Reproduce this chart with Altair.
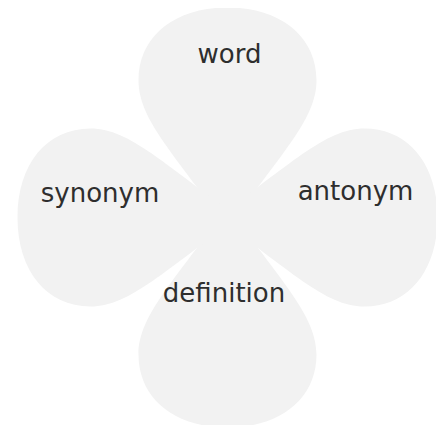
import altair as alt
import pandas as pd

# ---- data ----
categories = ["word", "antonym", "definition", "synonym"]
petal_angle = [0, 90, 180, 270]          # petal direction (deg, clockwise from up)
label_x = [2.0, 128.0, -3.5, -127.5]     # label anchor (chart units, centre = 0)
label_y = [154.8, 17.5, -84.8, 15.8]

df = pd.DataFrame({
    "category": categories,
    "angle": petal_angle,
    "cx": [0.0] * len(categories),
    "cy": [0.0] * len(categories),
    "lx": label_x,
    "ly": label_y,
})

# ---- petal shape (unit path, tip at origin, pointing up) ----
R = 210.0
segs = [
    ("M", [(0, 12)]),
    ("C", [(-51, -62), (-89, -97), (-89, -137)]),
    ("C", [(-89, -181), (-53, -210), (0, -210)]),
    ("C", [(53, -210), (89, -181), (89, -137)]),
    ("C", [(89, -97), (51, -62), (0, 12)]),
]
parts = []
for cmd, pts in segs:
    parts.append(cmd + " ".join(f"{x / R:.4f},{y / R:.4f}" for x, y in pts))
PETAL = " ".join(parts) + " Z"

xs = alt.Scale(domain=[-219.5, 208.5], nice=False, zero=False)
ys = alt.Scale(domain=[-207.5, 209.5], nice=False, zero=False)

petals = alt.Chart(df).mark_point(
    shape=PETAL, filled=True, fill="#f2f2f2", opacity=1,
    size=(2 * R) ** 2, strokeWidth=0,
).encode(
    x=alt.X("cx:Q", scale=xs, axis=None),
    y=alt.Y("cy:Q", scale=ys, axis=None),
    angle=alt.Angle("angle:Q", scale=None),
)

labels = alt.Chart(df).mark_text(
    font="DejaVu Sans", fontSize=26, color="#2e2e2e",
    baseline="alphabetic", align="center",
).encode(
    x=alt.X("lx:Q", scale=xs, axis=None),
    y=alt.Y("ly:Q", scale=ys, axis=None),
    text="category:N",
)

chart = alt.layer(petals, labels).properties(
    width=428, height=417,
    autosize=alt.AutoSizeParams(type="none"),
    padding=0,
    background="white",
).configure_view(strokeWidth=0)

chart.save("out.html", embed_options={"renderer": "svg", "actions": False})
